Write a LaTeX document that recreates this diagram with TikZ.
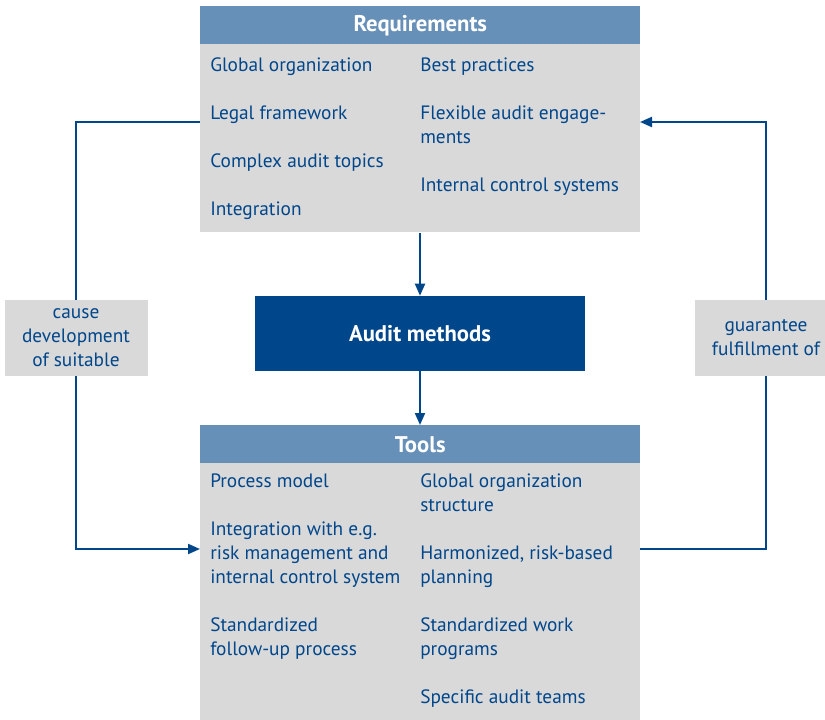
\documentclass[tikz,border=0pt]{standalone}
\usepackage{fontspec}
\setmainfont{PT Sans}
\usetikzlibrary{arrows.meta,positioning}
\definecolor{auditblue}{HTML}{00468B}
\definecolor{headblue}{HTML}{6690B8}
\definecolor{boxgray}{HTML}{D9D9D9}
\tikzset{%
  body/.style     = {shape=rectangle, fill=boxgray, inner sep=0pt,%
                     anchor=north west, minimum width=330pt},%
  head/.style     = {shape=rectangle, fill=headblue, inner sep=0pt,%
                     anchor=north west, minimum width=330pt,%
                     minimum height=28.5pt, text=white,%
                     font=\bfseries\fontsize{17}{18}\selectfont},%
  item/.style     = {anchor=base west, inner sep=0pt, align=left,%
                     text=auditblue, font=\fontsize{14.5}{18}\selectfont},%
  tag/.style      = {shape=rectangle, fill=boxgray, inner sep=0pt,%
                     minimum width=107.25pt, minimum height=57pt,%
                     align=center, text=auditblue,%
                     font=\fontsize{14.5}{18}\selectfont},%
  link/.style     = {draw=auditblue, line width=1.5pt},%
  arrow/.style    = {link, -{Triangle[length=9pt,width=7.5pt]}}%
}
\begin{document}
\begin{tikzpicture}[x=0.75pt,y=-0.75pt]
  \useasboundingbox (0,0) rectangle (825,720);
  % requirements (base of multi-line items = last line)
  \node [body, minimum height=141pt] (reqbody) at (200,44) {};
  \node [head] (reqhead) at (200,6) {Requirements};
  \node [item] (r1) at (210,71.5) {Global organization};
  \node [item] (r2) at (210,119.5) {Legal framework};
  \node [item] (r3) at (210,167.5) {Complex audit topics};
  \node [item] (r4) at (210,215.5) {Integration};
  \node [item] (r5) at (420,71.5) {Best practices};
  \node [item] (r6) at (420,143.5) {Flexible audit engage-\\ments};
  \node [item] (r7) at (420,191.5) {Internal control systems};
  % audit methods
  \node [shape=rectangle, fill=auditblue, text=white, minimum width=247.5pt,%
         minimum height=56.25pt, font=\bfseries\fontsize{17}{18}\selectfont]
         (audit) at (420,333.5) {Audit methods};
  % tools
  \node [body, minimum height=192.75pt] (toolbody) at (200,463) {};
  \node [head] (toolhead) at (200,425) {Tools};
  \node [item] (t1) at (210,487.5) {Process model};
  \node [item] (t2) at (210,583.5) {Integration with e.g.\\risk management and\\internal control system};
  \node [item] (t3) at (210,655.5) {Standardized\\follow-up process};
  \node [item] (t4) at (420,511.5) {Global organization\\structure};
  \node [item] (t5) at (420,583.5) {Harmonized, risk-based\\planning};
  \node [item] (t6) at (420,655.5) {Standardized work\\programs};
  \node [item] (t7) at (420,703.5) {Specific audit teams};
  % side labels
  \node [tag] (cause) at (76,338) {cause\\development\\of suitable};
  \node [tag] (guar) at (766,338) {guarantee\\fulfillment of};
  \coordinate (reqL) at (200,122);
  \coordinate (reqR) at (640,122);
  \coordinate (toolL) at (200,549);
  \coordinate (toolR) at (640,549);
  % connectors
  \draw [arrow] (reqbody.south -| audit) -- (audit.north);
  \draw [arrow] (audit.south) -- (toolhead.north -| audit);
  \draw [link] (reqL) -| (cause.north);
  \draw [arrow] (cause.south) |- (toolL);
  \draw [link] (toolR) -| (guar.south);
  \draw [arrow] (guar.north) |- (reqR);
\end{tikzpicture}
\end{document}
